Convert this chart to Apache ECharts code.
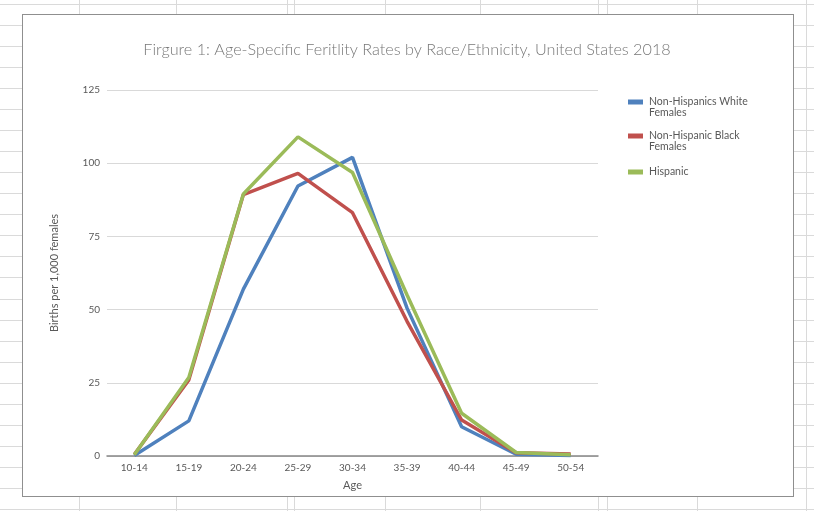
<!DOCTYPE html>
<html>
<head>
<meta charset="utf-8">
<script src="https://cdn.jsdelivr.net/npm/echarts@6/dist/echarts.min.js"></script>
<style>
html,body{margin:0;padding:0;width:814px;height:511px;background:#fff;overflow:hidden;}
#sheet{position:absolute;left:0;top:0;width:814px;height:511px;}
.hl{position:absolute;left:0;width:814px;height:1px;background:#dadada;}
.vl{position:absolute;top:0;height:511px;width:1px;background:#dadada;}
#box{position:absolute;left:22px;top:14px;width:772px;height:483px;box-sizing:border-box;border:1.5px solid #8f8f8f;background:#fff;}
#chart{position:absolute;left:0;top:0;width:814px;height:511px;}
</style>
</head>
<body>
<div id="sheet"></div>
<div id="box"></div>
<div id="chart"></div>
<script>
// ---- data ----
const categories = ['10-14','15-19','20-24','25-29','30-34','35-39','40-44','45-49','50-54'];
const whiteFemales = [0.2, 12.0, 57.0, 92.2, 102.0, 50.5, 10.0, 0.6, 0.2];
const blackFemales = [0.5, 26.0, 89.3, 96.5, 83.1, 46.0, 12.3, 1.1, 0.7];
const hispanic     = [0.4, 26.8, 89.5, 109.0, 96.8, 55.0, 14.6, 1.2, 0.4];
const seriesNames = ['Non-Hispanics White Females', 'Non-Hispanic Black Females', 'Hispanic'];
const yTicks = [0, 25, 50, 75, 100, 125];

// ---- decorative spreadsheet grid ----
const rowLines = [];
for (let k = 0; k < 25; k++) rowLines.push(3.7 + 21.06 * k);
const colLines = [79, 176, 287, 294, 385, 480, 598, 607, 697, 806];
const sheet = document.getElementById('sheet');
rowLines.forEach(y => { const d = document.createElement('div'); d.className='hl'; d.style.top = Math.round(y)+'px'; sheet.appendChild(d); });
colLines.forEach(x => { const d = document.createElement('div'); d.className='vl'; d.style.left = x+'px'; sheet.appendChild(d); });

const FONT = 'Lato, "Open Sans", sans-serif';
const TXT = '#595959';
const colors = ['#4f81bd', '#c0504d', '#9bbb59'];

const chart = echarts.init(document.getElementById('chart'), null, {renderer:'canvas'});
const wrapIcon = 'path://M0,3H15V8H0Z M0,0L0,0 M0,22L0,22';
chart.setOption({
  backgroundColor: 'transparent',
  animation: false,
  color: colors,
  title: {
    text: 'Firgure 1: Age-Specific Feritlity Rates by Race/Ethnicity, United States 2018',
    left: 'center', top: 37,
    textStyle: { fontFamily: FONT, fontSize: 16.2, fontWeight: 300, color: '#787878' }
  },
  legend: [
    {
      data: [seriesNames[0], seriesNames[1]],
      orient: 'vertical', left: 623, top: 91.5,
      itemWidth: 15, itemHeight: 22, itemGap: 12,
      icon: wrapIcon,
      itemStyle: { borderWidth: 0 },
      formatter: n => n.replace(/ Females$/, '\nFemales'),
      textStyle: { fontFamily: FONT, fontSize: 10.5, lineHeight: 11, color: TXT, padding: [0,0,0,1] }
    },
    {
      data: [seriesNames[2]],
      orient: 'vertical', left: 623, top: 161.5,
      itemWidth: 15, itemHeight: 5,
      icon: 'rect',
      itemStyle: { borderWidth: 0 },
      textStyle: { fontFamily: FONT, fontSize: 10.5, lineHeight: 11, color: TXT, padding: [0,0,0,1] }
    }
  ],
  grid: { left: 107, right: 216, top: 90, bottom: 55, containLabel: false, outerBoundsMode: 'none' },
  xAxis: {
    type: 'category',
    data: categories,
    boundaryGap: true,
    name: 'Age', nameLocation: 'middle', nameGap: 24,
    nameTextStyle: { fontFamily: FONT, fontSize: 11, color: TXT },
    axisLine: { lineStyle: { color: '#868686', width: 1.5 } },
    axisTick: { show: false },
    axisLabel: { fontFamily: FONT, fontSize: 10, color: TXT, margin: 7 }
  },
  yAxis: {
    type: 'value', min: 0, max: 125, interval: 25,
    name: 'Births per 1,000 females', nameLocation: 'middle', nameGap: 47, nameRotate: 90,
    nameTextStyle: { fontFamily: FONT, fontSize: 11, color: TXT },
    axisLine: { show: false },
    axisTick: { show: false },
    splitLine: { lineStyle: { color: '#d9d9d9', width: 1 } },
    axisLabel: { fontFamily: FONT, fontSize: 10, color: TXT, margin: 7,
      formatter: v => yTicks.includes(v) ? String(v) : '' }
  },
  series: [whiteFemales, blackFemales, hispanic].map((d, i) => ({
    name: seriesNames[i], type: 'line', data: d,
    showSymbol: false, symbol: 'none',
    lineStyle: { width: 3.5, color: colors[i] },
    itemStyle: { color: colors[i] },
    emphasis: { disabled: true }
  }))
});
</script>
</body>
</html>
